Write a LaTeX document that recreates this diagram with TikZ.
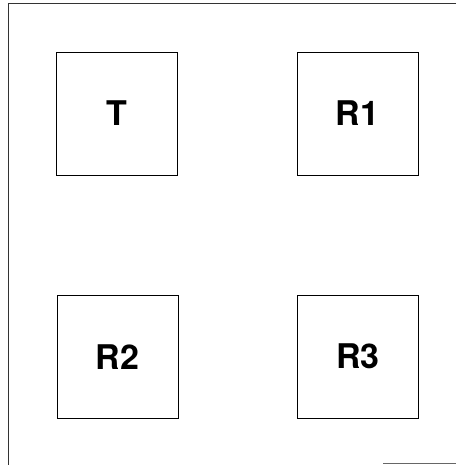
\documentclass[tikz,border=0pt]{standalone}
\usepackage{fontspec}
\setmainfont{TeX Gyre Heros}
\usetikzlibrary{positioning}

\begin{document}
\begin{tikzpicture}[x=1pt, y=-1pt,
  unitbox/.style={draw, line width=0.9pt, minimum width=121pt, minimum height=123pt,
    inner sep=0pt, font=\fontsize{34}{38}\selectfont\bfseries}]
  \useasboundingbox (0,0) rectangle (456,465);
  % Frame
  \draw[line width=0.8pt, black!80] (456,3) -- (8,3) -- (8,465);
  \draw[line width=0.8pt, black!60] (383,463) -- (456,463);
  % Units
  \node[unitbox] (t) at (117,113.5) {T};
  \node[unitbox] (r1) at (357.5,113.5) {R1};
  \node[unitbox] (r2) at (117.5,357) {R2};
  \node[unitbox] (r3) at (358,356.5) {R3};
\end{tikzpicture}
\end{document}
